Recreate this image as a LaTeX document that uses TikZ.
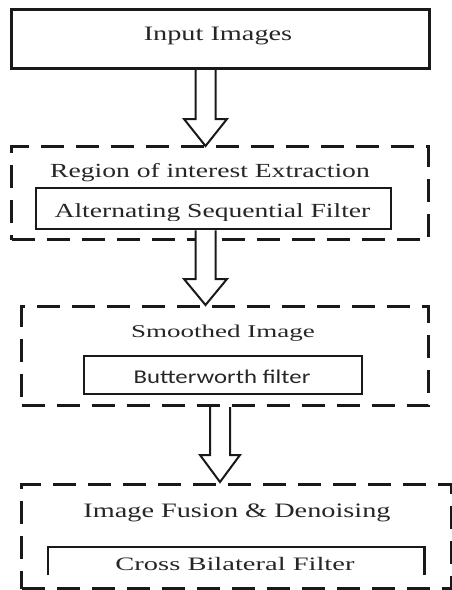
\documentclass[tikz,border=0pt]{standalone}
\usepackage{fontspec}
\usetikzlibrary{calc}
\newfontfamily\tmsfont[FakeStretch=1.38]{Liberation Serif}
\newfontfamily\tmswide[FakeStretch=1.5]{Liberation Serif}
\newfontfamily\calfont[FakeStretch=1.27]{Carlito}
\begin{document}
\begin{tikzpicture}[x=1pt,y=-1pt,
  solidbox/.style={draw=black!90, line width=3pt, rectangle, inner sep=0pt, anchor=north west},
  innerbox/.style={draw=black!90, line width=2.4pt, rectangle, inner sep=0pt, anchor=north west},
  dashbox/.style={draw=black!90, line width=3pt, dash pattern=on 23pt off 12pt, rectangle, inner sep=0pt, anchor=north west},
  label/.style={anchor=base, inner sep=0pt, text=black!85},
  blockarrow/.style={draw=black!90, line width=2pt, fill=white, line join=miter}
]
\useasboundingbox (0,0) rectangle (452,590);

% boxes
\node[solidbox, minimum width=418pt, minimum height=59pt] (in) at (10,8) {};
\node[dashbox, minimum width=417pt, minimum height=93pt] (roi) at (10,145) {};
\node[innerbox, minimum width=355pt, minimum height=41pt] (asf) at (35,187) {};
\node[dashbox, minimum width=407pt, minimum height=99pt] (sm) at (20,305) {};
\node[innerbox, minimum width=278pt, minimum height=38pt] (bw) at (83,355) {};
\node[dashbox, minimum width=430pt, minimum height=104pt] (fu) at (20,483) {};
\node[inner sep=0pt, minimum width=376pt, minimum height=28pt, anchor=north west] (cbf) at (48,547) {};
\draw[draw=black!90, line width=2.4pt] (cbf.south west) -- (cbf.north west) -- (cbf.north east) -- (cbf.south east);

% texts
\node[label] (tin) at (218,40) {\tmsfont\fontsize{20.5}{24}\selectfont Input Images};
\node[label] (troi) at (210,177) {\tmsfont\fontsize{20}{24}\selectfont Region of interest Extraction};
\begin{scope}
\clip (0,0) rectangle (452,220.5);
\node[label] (tasf) at (212.5,217) {\tmsfont\fontsize{20}{24}\selectfont Alternating Sequential Filter};
\end{scope}
\node[label] (tsm) at (223,337) {\tmswide\fontsize{18}{22}\selectfont Smoothed Image};
\node[label] (tbw) at (222,383) {\calfont\fontsize{19.5}{23}\selectfont Butterworth filter};
\node[label] (tfu) at (237,517) {\tmsfont\fontsize{20.5}{24}\selectfont Image Fusion \& Denoising};
\node[label] (tcbf) at (235,570) {\tmswide\fontsize{19}{23}\selectfont Cross Bilateral Filter};

% arrow tips
\coordinate (t1) at (205.5,146);
\coordinate (t2) at (205.5,305);
\coordinate (t3) at (220,482);

\draw[blockarrow] ($(in.south -| t1)+(-10,0)$) -- ($(t1)+(-10,-27)$) -- ($(t1)+(-21.5,-27)$) -- (t1)
  -- ($(t1)+(21.5,-27)$) -- ($(t1)+(10,-27)$) -- ($(in.south -| t1)+(10,0)$);
\draw[blockarrow] ($(asf.south -| t2)+(-10,0)$) -- ($(t2)+(-10,-26)$) -- ($(t2)+(-21.5,-26)$) -- (t2)
  -- ($(t2)+(21.5,-26)$) -- ($(t2)+(10,-26)$) -- ($(asf.south -| t2)+(10,0)$);
\draw[blockarrow] ($(sm.south -| t3)+(-10,0)$) -- ($(t3)+(-10,-27)$) -- ($(t3)+(-20,-27)$) -- (t3)
  -- ($(t3)+(20,-27)$) -- ($(t3)+(10,-27)$) -- ($(sm.south -| t3)+(10,0)$);
\end{tikzpicture}
\end{document}
